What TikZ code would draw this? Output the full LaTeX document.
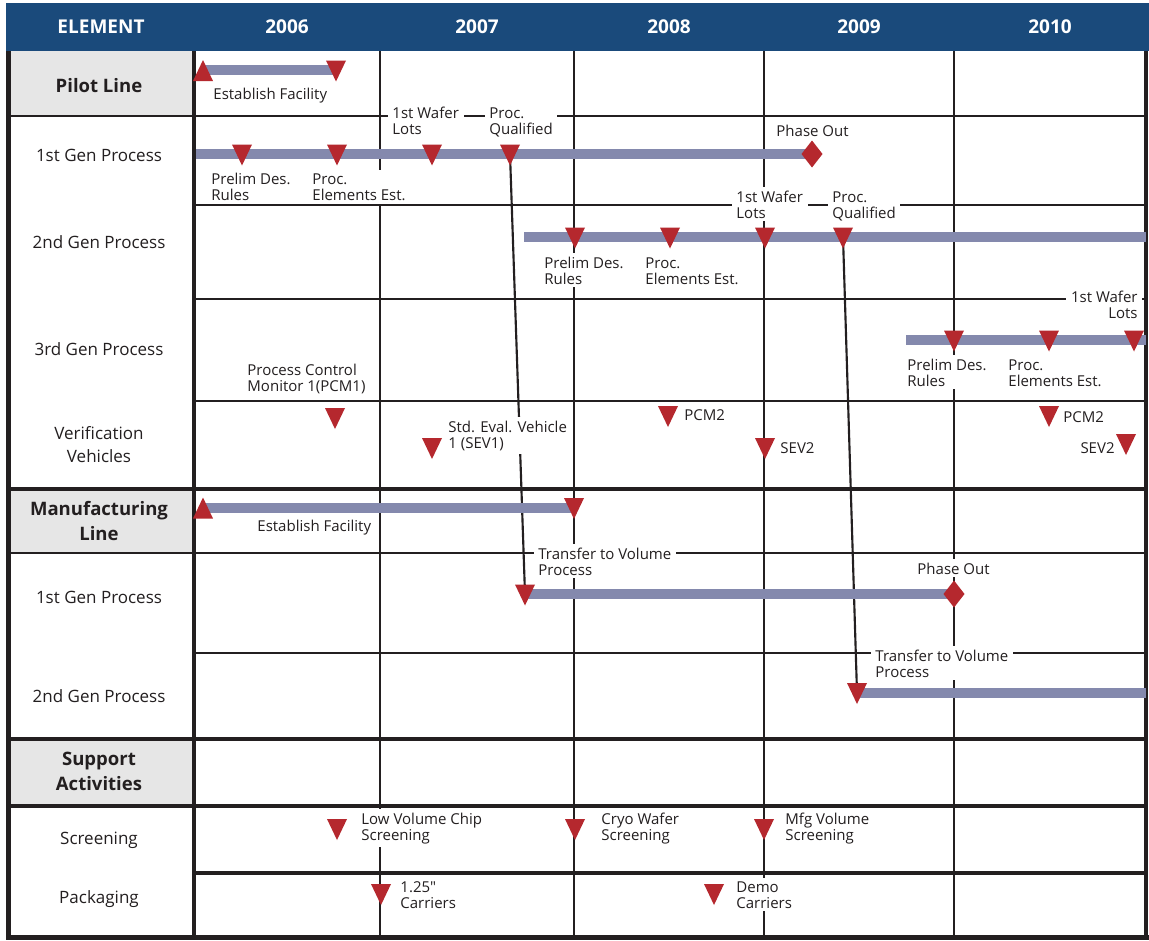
\documentclass[tikz,border=0pt]{standalone}
\usepackage{fontspec}
\setmainfont{Open Sans}
\definecolor{hdrblue}{HTML}{1A4A7B}
\definecolor{mkred}{HTML}{B5282E}
\definecolor{barcol}{HTML}{8489AD}
\definecolor{cellgray}{HTML}{E6E6E6}
\definecolor{ink}{HTML}{231F20}
\newcommand\dtri[3]{\coordinate (#1) at (#2,#3);\fill[mkred] (#2-10,#3-9.5) -- (#2+10,#3-9.5) -- (#2,#3+11.5) -- cycle;}
\newcommand\utri[3]{\coordinate (#1) at (#2,#3);\fill[mkred] (#2-10,#3+11) -- (#2+10,#3+11) -- (#2,#3-10) -- cycle;}
\newcommand\dmd[3]{\coordinate (#1) at (#2,#3);\fill[mkred] (#2-10.5,#3) -- (#2,#3-13.5) -- (#2+10.5,#3) -- (#2,#3+13.5) -- cycle;}
\tikzset{
  gline/.style={draw=ink, line width=1.7pt},
  sline/.style={draw=ink, line width=2.3pt},
  bline/.style={draw=ink, line width=3.6pt},
  barline/.style={draw=barcol, line width=7.5pt, line cap=butt},
  conn/.style={draw=ink, line width=1.6pt},
  lbl/.style={font=\fontsize{11.25}{12}\selectfont, text=ink, fill=white, align=left, inner xsep=3.5pt, inner ysep=2.5pt, anchor=base west},
  lblr/.style={lbl, align=right, anchor=base east},
  rowlbl/.style={font=\fontsize{12.75}{17.25}\selectfont, text=ink, align=center, anchor=base},
  rowhead/.style={font=\bfseries\fontsize{13.9}{18.5}\selectfont, text=ink, align=center, anchor=base},
  hdr/.style={font=\bfseries\fontsize{14.25}{16}\selectfont, text=white, anchor=base},
}
\begin{document}
\begin{tikzpicture}[x=0.75pt,y=-0.75pt]
\useasboundingbox (0,0) rectangle (1149,940);
\fill[white] (0,0) rectangle (1149,940);
% header band
\fill[hdrblue] (6,3) rectangle (1149,51);
% gray section cells
\fill[cellgray] (8,51) rectangle (194,116);
\fill[cellgray] (8,489) rectangle (194,553);
\fill[cellgray] (8,739) rectangle (194,806);
% grid: chart-only horizontals
\foreach \yy in {205,299,401,653} \draw[gline] (194,\yy) -- (1146,\yy);
\draw[sline] (194,873) -- (1146,873);
% full-width horizontals
\draw[gline] (8,116) -- (1146,116);
\draw[gline] (8,553) -- (1146,553);
\foreach \yy in {489,739,806} \draw[sline] (8,\yy) -- (1146,\yy);
% verticals
\foreach \xx in {380,574,764,954} \draw[gline] (\xx,51) -- (\xx,936);
\draw[line width=2.5pt, draw=ink] (194,51) -- (194,936);
\draw[line width=3.6pt, draw=ink] (8.5,51) -- (8.5,938);
\draw[line width=2.3pt, draw=ink] (1146,51) -- (1146,938);
\draw[bline] (6,937.5) -- (1149,937.5);

% connectors (drawn under labels and markers)
\coordinate (qa) at (510,154);
\coordinate (ta) at (525,594);
\coordinate (qb) at (843,237);
\coordinate (tb) at (857,692.5);
\draw[conn] (qa) -- (ta);
\draw[conn] (qb) -- (tb);

% labels with white boxes (y = baseline of last line)
\node[lbl] (pfac) at (208.5,99) {Establish Facility};
\node[lbl] (g1pre) at (206.5,200) {Prelim Des.\\Rules};
\node[lbl] (g1elm) at (307.5,200) {Proc.\\Elements Est.};
\node[lbl] (g1waf) at (387.5,134) {1st Wafer\\Lots};
\node[lbl] (g1qual) at (484.5,134) {Proc.\\Qualified};
\node[lbl] (g1out) at (771.5,136) {Phase Out};
\node[lbl] (g2pre) at (539.5,284) {Prelim Des.\\Rules};
\node[lbl] (g2elm) at (640.5,284) {Proc.\\Elements Est.};
\node[lbl] (g2waf) at (731.5,218) {1st Wafer\\Lots};
\node[lbl] (g2qual) at (827.5,218) {Proc.\\Qualified};
\node[lbl] (g3pre) at (902.5,386) {Prelim Des.\\Rules};
\node[lbl] (g3elm) at (1003.5,386) {Proc.\\Elements Est.};
\node[lblr] (g3waf) at (1142.5,318) {1st Wafer\\Lots};
\node[lbl] (pcm1) at (242.5,391) {Process Control\\Monitor 1(PCM1)};
\node[lbl] (sev1) at (443.5,448) {Std. Eval. Vehicle\\1 (SEV1)};
\node[lbl] (pcm2a) at (679.5,420) {PCM2};
\node[lbl] (sev2a) at (775.5,453) {SEV2};
\node[lbl] (pcm2b) at (1058.5,422) {PCM2};
\node[lblr] (sev2b) at (1119.5,453) {SEV2};
\node[lbl] (mfac) at (252.5,531) {Establish Facility};
\node[lbl] (m1tr) at (533.5,575) {Transfer to Volume\\Process};
\node[lbl] (m1out) at (912.5,574) {Phase Out};
\node[lbl] (m2tr) at (870.5,677) {Transfer to Volume\\Process};
\node[lbl] (scr1) at (356.5,840) {Low Volume Chip\\Screening};
\node[lbl] (scr2) at (596.5,840) {Cryo Wafer\\Screening};
\node[lbl] (scr3) at (780.5,840) {Mfg Volume\\Screening};
\node[lbl] (pk1) at (395.5,908) {1.25″\\Carriers};
\node[lbl] (pk2) at (731.5,908) {Demo\\Carriers};

% bars
\draw[barline] (203,70) -- (336,70);
\draw[barline] (196,154) -- (812,154);
\draw[barline] (524,237) -- (1146,237);
\draw[barline] (906,340) -- (1146,340);
\draw[barline] (203,507.5) -- (574,507.5);
\draw[barline] (525,594) -- (954,594);
\draw[barline] (857,692.5) -- (1146,692.5);

% markers
\utri{p0}{203}{70}
\dtri{p1}{336}{70}
\dtri{a1}{242}{154}
\dtri{a2}{337}{154}
\dtri{a3}{432}{154}
\dtri{a4}{510}{154}
\dmd{a5}{812}{154}
\dtri{b1}{575}{237}
\dtri{b2}{670}{237}
\dtri{b3}{765}{237}
\dtri{b4}{843}{237}
\dtri{c1}{954}{340}
\dtri{c2}{1049}{340}
\dtri{c3}{1134}{340}
\dtri{v1}{335}{417.5}
\dtri{v2}{432}{447.5}
\dtri{v3}{668}{415.5}
\dtri{v4}{765}{447.5}
\dtri{v5}{1049}{415.5}
\dtri{v6}{1126}{443.5}
\utri{m0}{203}{507.5}
\dtri{m1}{574}{507.5}
\dtri{n1}{525}{594}
\dmd{n2}{954}{594}
\dtri{o1}{857}{692.5}
\dtri{s1}{337}{828.5}
\dtri{s2}{575}{828.5}
\dtri{s3}{764}{828.5}
\dtri{k1}{381}{893.5}
\dtri{k2}{714}{893.5}

% header texts
\node[hdr] (hel) at (101,33.5) {ELEMENT};
\node[hdr] (h06) at (287,33.5) {2006};
\node[hdr] (h07) at (477,33.5) {2007};
\node[hdr] (h08) at (669,33.5) {2008};
\node[hdr] (h09) at (859,33.5) {2009};
\node[hdr] (h10) at (1050,33.5) {2010};

% row labels (y = baseline of last line)
\node[rowhead] (rpl) at (99,92.5) {Pilot Line};
\node[rowlbl] (r1g) at (99,161) {1st Gen Process};
\node[rowlbl] (r2g) at (99,248) {2nd Gen Process};
\node[rowlbl] (r3g) at (99,355) {3rd Gen Process};
\node[rowlbl] (rvv) at (99,462) {Verification\\Vehicles};
\node[rowhead] (rml) at (99,540.5) {Manufacturing\\Line};
\node[rowlbl] (rm1) at (99,603) {1st Gen Process};
\node[rowlbl] (rm2) at (99,702) {2nd Gen Process};
\node[rowhead] (rsa) at (99,790.5) {Support\\Activities};
\node[rowlbl] (rsc) at (99,844) {Screening};
\node[rowlbl] (rpk) at (99,903) {Packaging};
\end{tikzpicture}
\end{document}
